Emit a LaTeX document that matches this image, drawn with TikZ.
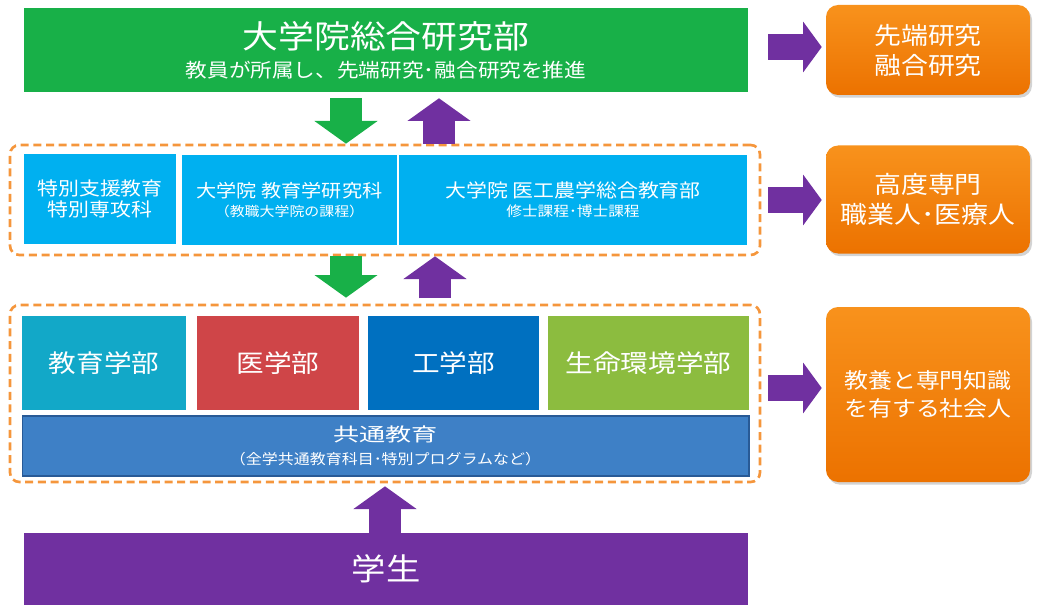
\documentclass[tikz,border=0pt]{standalone}
\usepackage{fontspec}
\setmainfont{Noto Sans CJK JP}[FakeStretch=1.12]
\newfontfamily\widef{Noto Sans CJK JP}[FakeStretch=1.4]
\usetikzlibrary{arrows.meta,shadows,calc}
\definecolor{tgreen}{RGB}{24,176,72}
\definecolor{lblue}{RGB}{0,176,240}
\definecolor{fteal}{RGB}{18,168,200}
\definecolor{fred}{RGB}{207,69,72}
\definecolor{fblue}{RGB}{0,112,192}
\definecolor{fgreen}{RGB}{140,188,63}
\definecolor{comm}{RGB}{62,128,198}
\definecolor{commb}{RGB}{40,90,150}
\definecolor{apurple}{RGB}{112,48,160}
\definecolor{otop}{RGB}{248,146,28}
\definecolor{obot}{RGB}{236,114,0}
\definecolor{dorange}{RGB}{245,150,60}
\begin{document}
\begin{tikzpicture}[x=0.75pt,y=-0.75pt,
  box/.style={inner sep=0pt, text=white, align=center},
  dbox/.style={draw=dorange, line width=2pt, dash pattern=on 6pt off 3.5pt, rounded corners=7pt, inner sep=0pt},
  obox/.style={box, rounded corners=9pt, top color=otop, bottom color=obot, minimum width=153pt,
     drop shadow={opacity=0.35, shadow xshift=1.5pt, shadow yshift=-2pt}},
  garrow/.style={draw=tgreen, line width=24pt, -{Triangle[width=46.5pt,length=17pt]}},
  parrow/.style={draw=apurple, line width=24pt, -{Triangle[width=46.5pt,length=17pt]}},
  rarrow/.style={draw=apurple, line width=19pt, -{Triangle[width=37.5pt,length=14pt]}},
  fac/.style={box, minimum height=70.5pt, font=\fontsize{18.5}{22}\selectfont}]
\useasboundingbox (0,0) rectangle (1040,610);

% dashed groups
\node[dbox, minimum width=562.5pt, minimum height=82.5pt] (d1) at (385,200) {};
\node[dbox, minimum width=562.5pt, minimum height=132.75pt] (d2) at (385,393.5) {};

% top box
\node[box, fill=tgreen, minimum width=543pt, minimum height=63pt,
      font=\fontsize{24}{22}\selectfont] (top) at (386,50)
  {大学院総合研究部\\
   {\fontsize{14.5}{18}\selectfont 教員が所属し、先端研究･融合研究を推進}};

% graduate row
\node[box, fill=lblue, minimum width=114pt, minimum height=67.5pt,
      font=\fontsize{14}{15.5}\selectfont] (s1) at (100,199)
  {特別支援教育\\特別専攻科};
\node[box, fill=lblue, minimum width=161.25pt, minimum height=67.5pt,
      font=\fontsize{13.5}{14}\selectfont] (s2) at (289.5,200)
  {大学院 教育学研究科\\{\fontsize{10}{12}\selectfont （教職大学院の課程）}};
\node[box, fill=lblue, minimum width=261pt, minimum height=67pt,
      font=\fontsize{14}{14}\selectfont] (s3) at (573,200)
  {大学院 医工農学総合教育部\\{\fontsize{10.5}{12}\selectfont 修士課程･博士課程}};

% faculties
\node[fac, fill=fteal, minimum width=123pt] (f1) at (104,363) {教育学部};
\node[fac, fill=fred, minimum width=121.5pt] (f2) at (278,363) {医学部};
\node[fac, fill=fblue, minimum width=128.25pt] (f3) at (453.5,363) {工学部};
\node[fac, fill=fgreen, minimum width=150.75pt] (f4) at (648.5,363) {生命環境学部};
\node[box, fill=comm, draw=commb, line width=1pt, minimum width=545pt, minimum height=45pt,
      font=\widef\fontsize{14}{17}\selectfont] (cm) at (385.5,446)
  {共通教育\\{\normalfont\fontsize{10.7}{13}\selectfont （全学共通教育科目･特別プログラムなど）}};

% students
\node[box, fill=apurple, minimum width=543pt, minimum height=54pt,
      font=\fontsize{23}{26}\selectfont] (st) at (386,569) {学生};

% outcomes
\node[obox, minimum height=67.5pt, font=\fontsize{18}{22.5}\selectfont] (o1) at (928,50)
  {先端研究\\融合研究};
\node[obox, minimum height=81pt, font=\fontsize{18}{22.5}\selectfont] (o2) at (928,199.5)
  {高度専門\\職業人･医療人};
\node[obox, minimum height=131.25pt, font=\fontsize{16}{21}\selectfont] (o3) at (928,394.5)
  {教養と専門知識\\を有する社会人};

% vertical arrows
\coordinate (ga) at (346,0);
\coordinate (pa) at (439,0);
\coordinate (pb) at (435,0);
\coordinate (pc) at (385,0);
\draw[garrow] ([yshift=-4.5pt]top.south -| ga) -- (d1.north -| ga);
\draw[parrow] (d1.north -| pa) -- ([yshift=-4.5pt]top.south -| pa);
\draw[garrow] (d1.south -| ga) -- ([yshift=4.5pt]d2.north -| ga);
\draw[parrow] ([yshift=4pt]d2.north -| pb) -- (d1.south -| pb);
\draw[parrow] (st.north -| pc) -- ([yshift=-2.25pt]d2.south -| pc);

% right arrows
\coordinate (r1) at (768,47);
\coordinate (r2) at (768,200);
\coordinate (r3) at (768,388);
\draw[rarrow, shorten >=3pt] (r1) -- (r1 -| o1.west);
\draw[rarrow, shorten >=3pt] (r2) -- (r2 -| o2.west);
\draw[rarrow, shorten >=3pt] (r3) -- (r3 -| o3.west);
\end{tikzpicture}
\end{document}
